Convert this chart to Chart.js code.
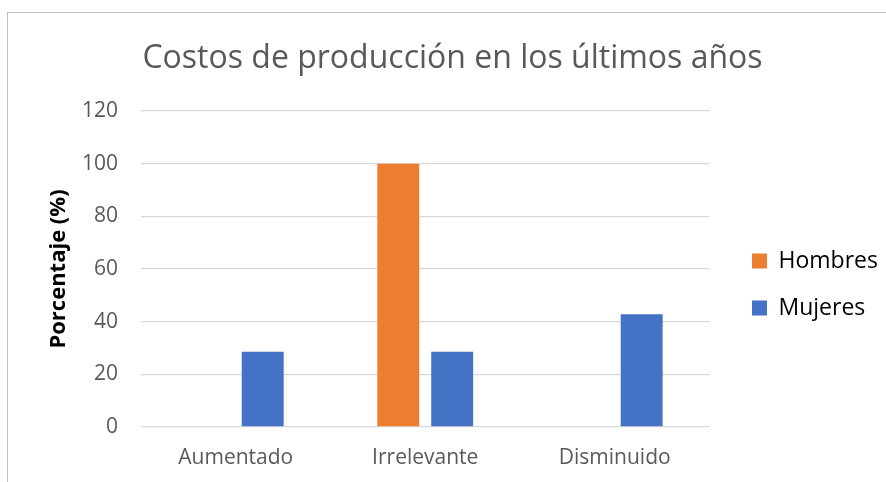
<!DOCTYPE html>
<html>
<head>
<meta charset="utf-8">
<script src="https://cdn.jsdelivr.net/npm/chart.js@4"></script>
<style>
  html, body { margin: 0; padding: 0; background: #fff; }
  #wrap { position: relative; width: 886px; height: 482px; overflow: hidden; }
  #frame { position: absolute; left: 7px; top: 12px; width: 900px; height: 500px;
           border-left: 1px solid #bfbfbf; border-top: 1px solid #bfbfbf; }
  #c { position: absolute; left: 0; top: 0; }
</style>
</head>
<body>
<div id="wrap">
  <div id="frame"></div>
  <canvas id="c" width="886" height="482"></canvas>
</div>
<script>
const titleText = 'Costos de producción en los últimos años';
const categories = ['Aumentado', 'Irrelevante', 'Disminuido'];
const hombres = [0, 100, 0];
const mujeres = [28.57, 28.57, 42.86];
const yTicks = [0, 20, 40, 60, 80, 100, 120];

const FONT = 'Open Sans';
const GREY = '#595959';
const PAD_R = 16.6, PAD_L = 35.6;

// push the legend to where the original sits
const legendShift = {
    id: 'legendShift',
    afterLayout(chart) {
        const lg = chart.legend;
        const dx = 728 - lg.left, dy = 43.5;
        lg.left += dx; lg.right += dx;
        lg.top += dy; lg.bottom += dy;
    }
};

new Chart(document.getElementById('c'), {
    type: 'bar',
    data: {
        labels: categories,
        datasets: [
            { label: 'Hombres', data: hombres, backgroundColor: '#ED7D31' },
            { label: 'Mujeres', data: mujeres, backgroundColor: '#4472C4' }
        ]
    },
    options: {
        responsive: false,
        animation: false,
        layout: { padding: { top: 0, right: PAD_R, bottom: 0, left: PAD_L } },
        datasets: { bar: { categoryPercentage: 0.569, barPercentage: 0.778, borderWidth: 0 } },
        scales: {
            x: {
                grid: { display: false, drawTicks: false },
                border: { display: false },
                ticks: { color: GREY, font: { family: FONT, size: 21 }, padding: 18 },
                afterFit: s => { s.height = 55; }
            },
            y: {
                min: 0, max: 120,
                afterBuildTicks: s => { s.ticks = yTicks.map(v => ({ value: v })); },
                grid: { color: '#D9D9D9', lineWidth: 1.3, drawTicks: false },
                border: { display: false },
                ticks: { color: GREY, font: { family: FONT, size: 21 }, padding: 23 },
                title: {
                    display: true, text: 'Porcentaje (%)', color: '#000',
                    font: { family: FONT, size: 22, weight: 'bold' }, padding: { top: 59 - PAD_L - 13.2, bottom: 0 }
                },
                afterFit: s => { s.width = 141 - PAD_L; }
            }
        },
        plugins: {
            title: {
                display: true, text: titleText, color: GREY,
                font: { family: FONT, size: 32, weight: 'normal' },
                padding: { top: 40, bottom: 32.6 }
            },
            legend: {
                position: 'right',
                labels: { color: '#000', font: { family: FONT, size: 23 }, boxWidth: 15, boxHeight: 15, padding: 24 }
            },
            tooltip: { enabled: false }
        }
    },
    plugins: [legendShift]
});
</script>
</body>
</html>
